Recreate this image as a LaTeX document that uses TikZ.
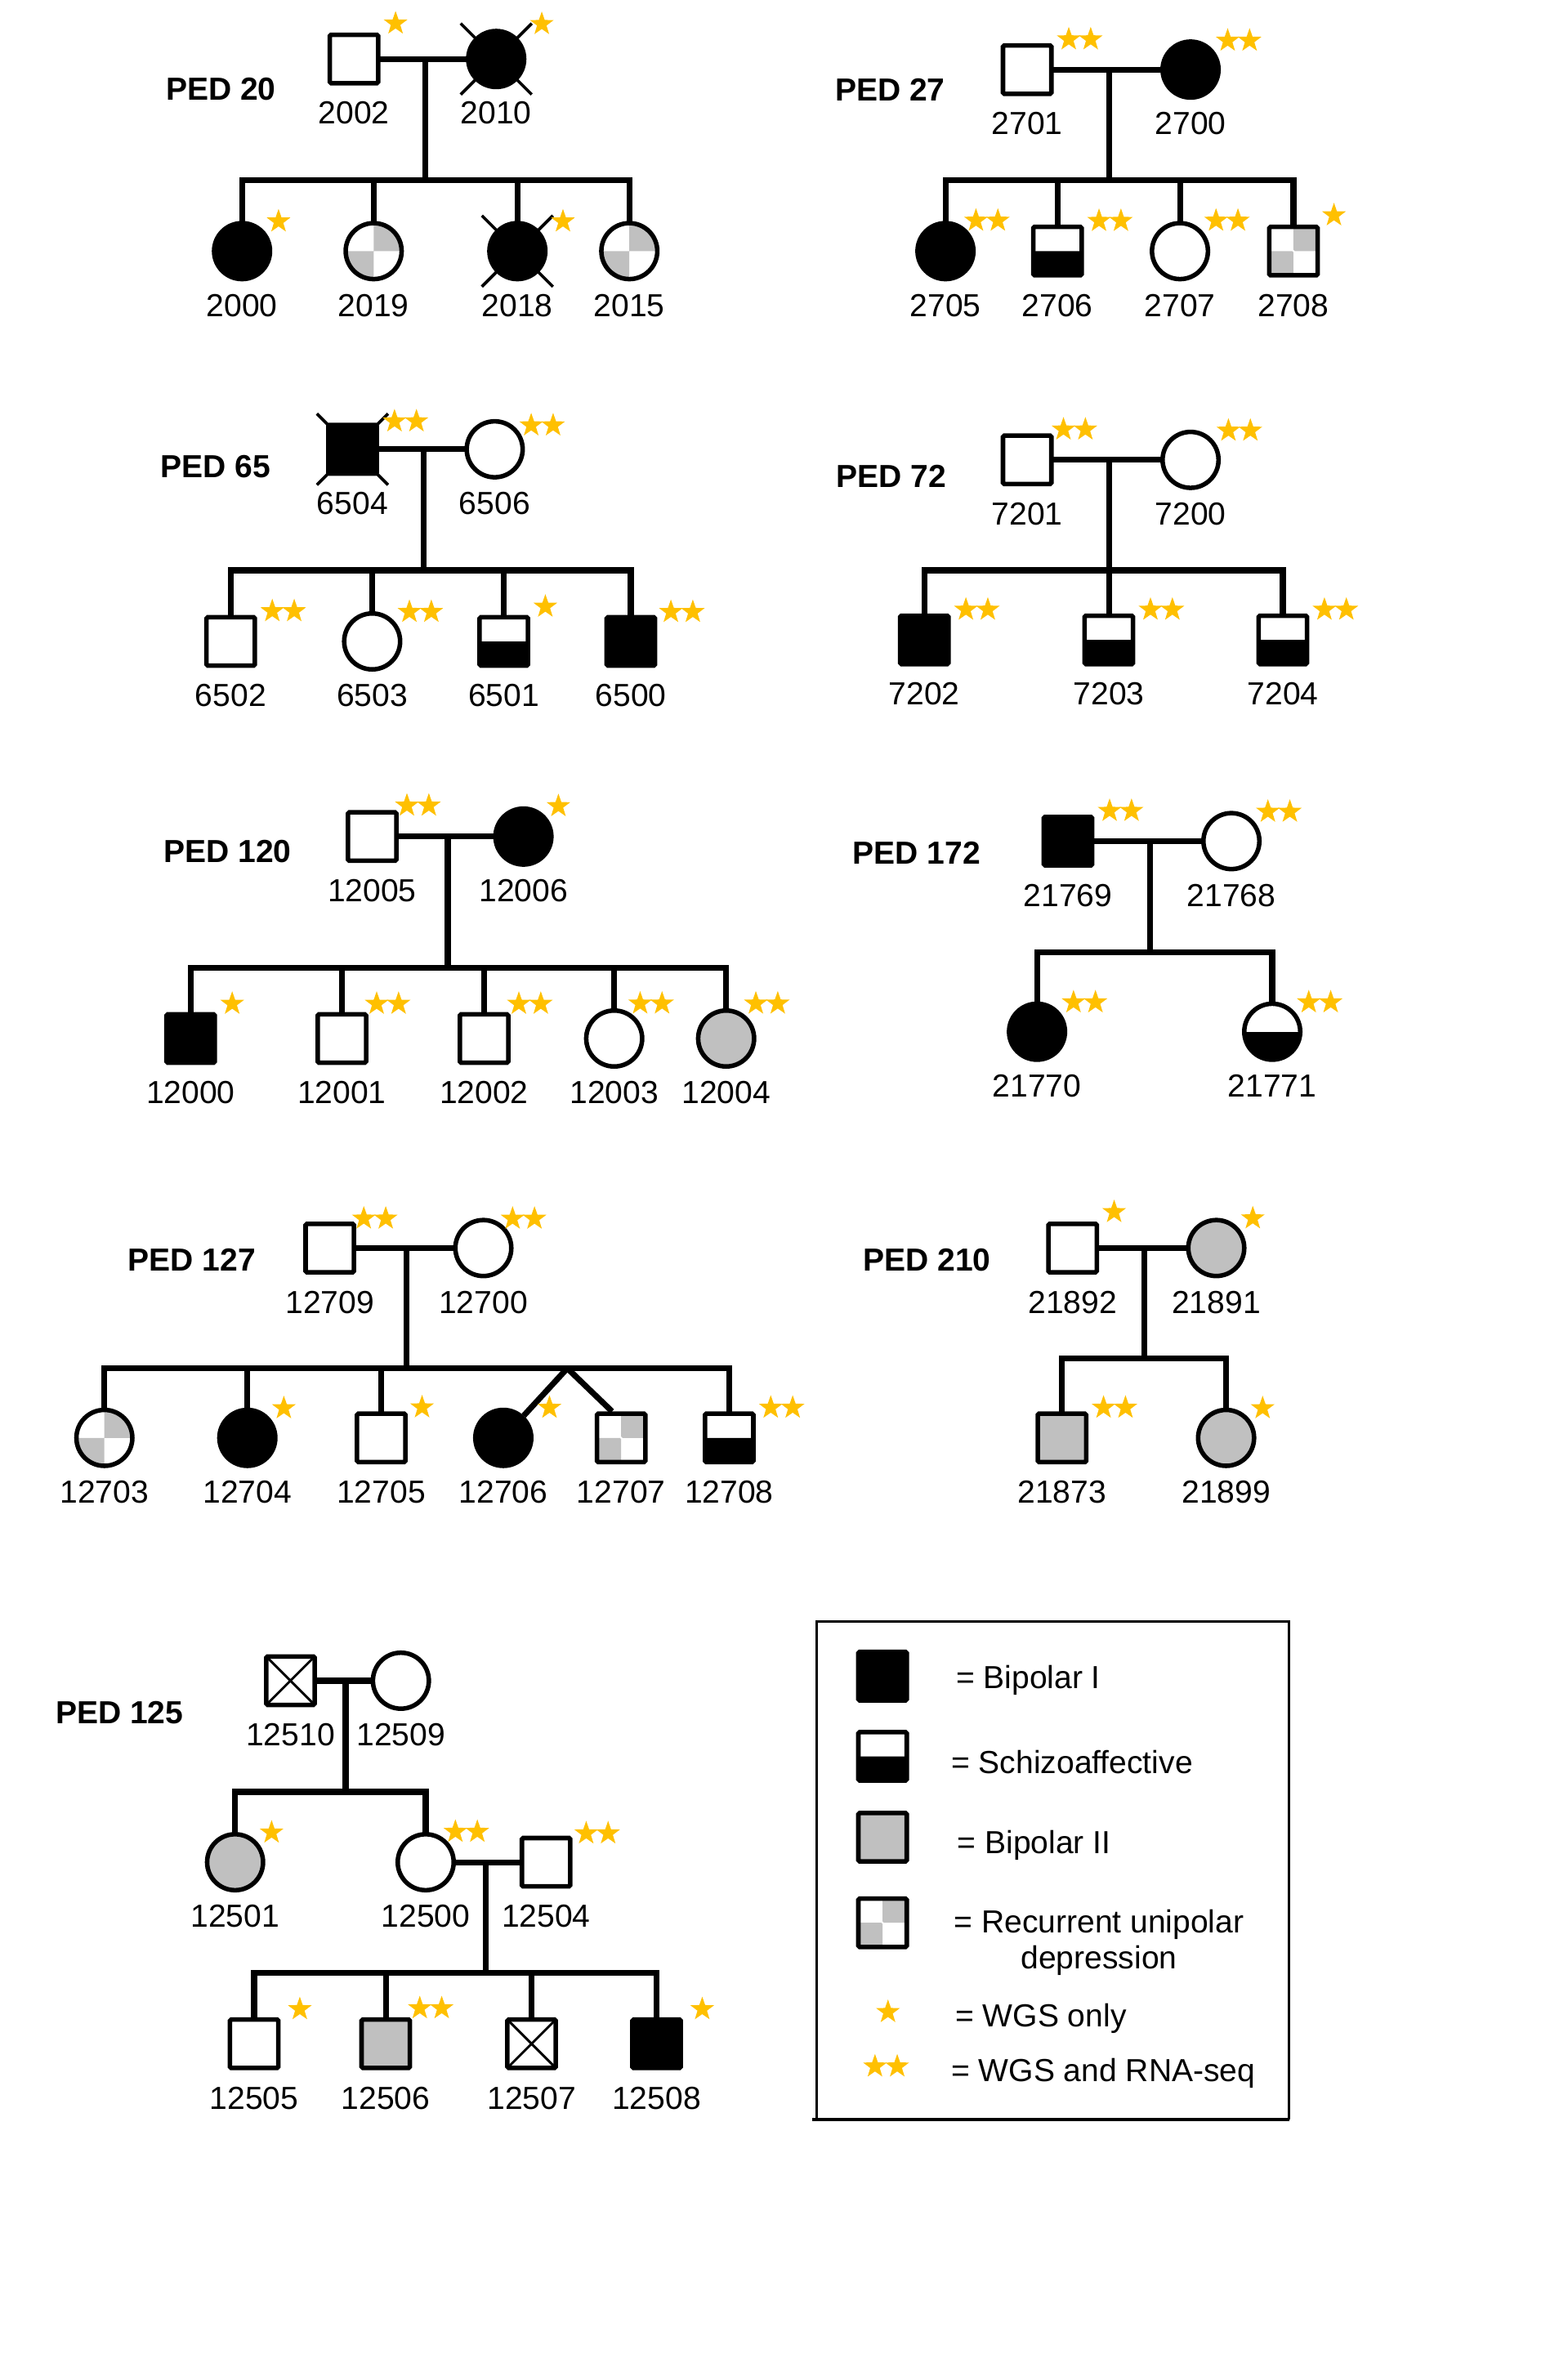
\documentclass[tikz,border=0pt]{standalone}
\usepackage{fontspec}
\setmainfont{Liberation Sans}
\usetikzlibrary{shapes.geometric,calc}
\definecolor{bptwo}{HTML}{C0C0C0}
\definecolor{seqgold}{HTML}{FFC000}
\tikzset{
  ind/.style={draw,line width=1.7pt,inner sep=0pt},
  sq/.style={ind,rectangle,rounded corners=0.5pt,minimum size=0.64cm},
  ci/.style={ind,circle,minimum size=0.74cm},
  male/.style={sq,label={[yshift=-0.21cm]below:#1}},
  female/.style={ci,label={[yshift=-0.16cm]below:#1}},
  bp1/.style={fill=black},
  bp2/.style={fill=bptwo},
  sza/.style={path picture={\fill[black] (path picture bounding box.west) rectangle (path picture bounding box.south east);}},
  rud/.style={path picture={\fill[bptwo] (path picture bounding box.center) rectangle (path picture bounding box.north east) (path picture bounding box.center) rectangle (path picture bounding box.south west);}},
  unk/.style={path picture={\draw[line width=0.9pt] (path picture bounding box.north west) -- (path picture bounding box.south east) (path picture bounding box.north east) -- (path picture bounding box.south west);}},
  wgs/.style={star,star points=5,star point ratio=2.5,fill=seqgold,minimum size=0.33cm,inner sep=0pt},
  kin/.style={line width=2.2pt,line cap=rect},
  dead/.style={line width=1.1pt},
  ped/.style={font=\fontsize{12}{14}\selectfont\bfseries},
  legtext/.style={anchor=base west,inner sep=0pt},
  every label/.style={inner sep=0pt}
}
\newcommand{\onestar}[2][10,-5.5]{\node[wgs] (#2w) at ([shift={(#1)}]#2.north east) {};}
\newcommand{\twostar}[2][10,-2.5]{\node[wgs] (#2w) at ([shift={(#1)}]#2.north east) {};\node[wgs] (#2r) at ([shift={(#1)},xshift=0.29cm]#2.north east) {};}
\newcommand{\deadmark}[1]{\draw[dead] ([shift={(-23.5,-23.5)}]#1.center) -- ([shift={(23.5,23.5)}]#1.center) ([shift={(23.5,-23.5)}]#1.center) -- ([shift={(-23.5,23.5)}]#1.center);}
\begin{document}
\begin{tikzpicture}[x=0.02cm,y=-0.02cm,font=\fontsize{12}{14}\selectfont]
\useasboundingbox (0,0) rectangle (1036,1568);

\node[ped] (ped20) at (146,59) {PED 20};
\node[male=2002] (i2002) at (234,39) {};
\node[female=2010,bp1] (i2010) at (328,39) {};
\node[female=2000,bp1] (i2000) at (160,166) {};
\node[female=2019,rud] (i2019) at (247,166) {};
\node[female=2018,bp1] (i2018) at (342,166) {};
\node[female=2015,rud] (i2015) at (416,166) {};
\coordinate (d20) at ($(i2002)!.5!(i2010)$);
\coordinate (s20) at ($(d20)+(0,80)$);
\draw[kin] (i2002) -- (i2010);
\draw[kin] (d20) -- (s20);
\draw[kin] (i2000 |- s20) -- (i2015 |- s20);
\foreach \p in {i2000,i2019,i2018,i2015} \draw[kin] (\p |- s20) -- (\p);
\deadmark{i2010}
\deadmark{i2018}
\onestar[10,-6]{i2002}
\onestar[16,-9]{i2010}
\onestar{i2000}
\onestar[16,-5.5]{i2018}

\node[ped] (ped27) at (588.4,59.4) {PED 27};
\node[male=2701] (i2701) at (679,46) {};
\node[female=2700,bp1] (i2700) at (787,46) {};
\node[female=2705,bp1] (i2705) at (625,166) {};
\node[male=2706,sza] (i2706) at (699,166) {};
\node[female=2707] (i2707) at (780,166) {};
\node[male=2708,rud] (i2708) at (855,166) {};
\coordinate (d27) at ($(i2701)!.5!(i2700)$);
\coordinate (s27) at ($(d27)+(0,73)$);
\draw[kin] (i2701) -- (i2700);
\draw[kin] (d27) -- (s27);
\draw[kin] (i2705 |- s27) -- (i2708 |- s27);
\foreach \p in {i2705,i2706,i2707,i2708} \draw[kin] (\p |- s27) -- (\p);
\twostar{i2701}
\twostar[10.4,-5]{i2700}
\twostar[6,-6]{i2705}
\twostar{i2706}
\twostar[9.7,-6]{i2707}
\onestar[9.3,-6.2]{i2708}

\node[ped] (ped65) at (142.5,308.6) {PED 65};
\node[male=6504,bp1] (i6504) at (233,297) {};
\node[female=6506] (i6506) at (327,297) {};
\node[male=6502] (i6502) at (152.5,424) {};
\node[female=6503] (i6503) at (246,424) {};
\node[male=6501,sza] (i6501) at (333,424) {};
\node[male=6500,bp1] (i6500) at (417,424) {};
\coordinate (d65) at ($(i6504)!.5!(i6506)$);
\coordinate (s65) at ($(d65)+(0,80)$);
\draw[kin] (i6504) -- (i6506);
\draw[kin] (d65) -- (s65);
\draw[kin] (i6502 |- s65) -- (i6500 |- s65);
\foreach \p in {i6502,i6503,i6501,i6500} \draw[kin] (\p |- s65) -- (\p);
\deadmark{i6504}
\twostar[10.3,-1]{i6504}
\twostar[10,-1.7]{i6506}
\twostar{i6502}
\twostar[10.5,-5.4]{i6503}
\onestar{i6501}
\twostar[9,-2]{i6500}

\node[ped] (ped72) at (589.3,315) {PED 72};
\node[male=7201] (i7201) at (679,304) {};
\node[female=7200] (i7200) at (787,304) {};
\node[male=7202,bp1] (i7202) at (611,423) {};
\node[male=7203,sza] (i7203) at (733,423) {};
\node[male=7204,sza] (i7204) at (848,423) {};
\coordinate (d72) at ($(i7201)!.5!(i7200)$);
\coordinate (s72) at ($(d72)+(0,73)$);
\draw[kin] (i7201) -- (i7200);
\draw[kin] (d72) -- (s72);
\draw[kin] (i7202 |- s72) -- (i7204 |- s72);
\foreach \p in {i7202,i7203,i7204} \draw[kin] (\p |- s72) -- (\p);
\twostar[6.5,-2.6]{i7201}
\twostar[10.9,-5.2]{i7200}
\twostar{i7202}
\twostar{i7203}
\twostar{i7204}

\node[ped] (ped120) at (150.5,562.8) {PED 120};
\node[male=12005] (i12005) at (246,553) {};
\node[female=12006,bp1] (i12006) at (346,553) {};
\node[male=12000,bp1] (i12000) at (126,686.5) {};
\node[male=12001] (i12001) at (226,686.5) {};
\node[male=12002] (i12002) at (320,686.5) {};
\node[female=12003] (i12003) at (406,686.5) {};
\node[female=12004,bp2] (i12004) at (480,686.5) {};
\coordinate (d120) at ($(i12005)!.5!(i12006)$);
\coordinate (s120) at ($(d120)+(0,87)$);
\draw[kin] (i12005) -- (i12006);
\draw[kin] (d120) -- (s120);
\draw[kin] (i12000 |- s120) -- (i12004 |- s120);
\foreach \p in {i12000,i12001,i12002,i12003,i12004} \draw[kin] (\p |- s120) -- (\p);
\twostar[5.5,-3]{i12005}
\onestar[9,-6]{i12006}
\onestar{i12000}
\twostar[5.5,-5.5]{i12001}
\twostar[5.5,-5.5]{i12002}
\twostar[3,-9]{i12003}
\twostar[5.5,-9]{i12004}

\node[ped] (ped172) at (606,564) {PED 172};
\node[male=21769,bp1] (i21769) at (706,556) {};
\node[female=21768] (i21768) at (814,556) {};
\node[female=21770,bp1] (i21770) at (685.5,682) {};
\node[female=21771,sza] (i21771) at (841,682) {};
\coordinate (d172) at ($(i21769)!.5!(i21768)$);
\coordinate (s172) at ($(d172)+(0,73.5)$);
\draw[kin] (i21769) -- (i21768);
\draw[kin] (d172) -- (s172);
\draw[kin] (i21770 |- s172) -- (i21771 |- s172);
\foreach \p in {i21770,i21771} \draw[kin] (\p |- s172) -- (\p);
\twostar{i21769}
\twostar[10,-5.3]{i21768}
\twostar[10,-5.3]{i21770}
\twostar[10,-5.3]{i21771}

\node[ped] (ped127) at (126.8,833) {PED 127};
\node[male=12709] (i12709) at (218,825) {};
\node[female=12700] (i12700) at (319.5,825) {};
\node[female=12703,rud] (i12703) at (69,950.5) {};
\node[female=12704,bp1] (i12704) at (163.5,950.5) {};
\node[male=12705] (i12705) at (252,950.5) {};
\node[female=12706,bp1] (i12706) at (332.7,950.5) {};
\node[male=12707,rud] (i12707) at (410.6,950.5) {};
\node[male=12708,sza] (i12708) at (482,950.5) {};
\coordinate (d127) at ($(i12709)!.5!(i12700)$);
\coordinate (s127) at ($(d127)+(0,79.5)$);
\coordinate (tw127) at (375,904.5);
\coordinate (tw12707) at ([xshift=-0.12cm]i12707.north);
\draw[kin] (i12709) -- (i12700);
\draw[kin] (d127) -- (s127);
\draw[kin] (i12703 |- s127) -- (i12708 |- s127);
\foreach \p in {i12703,i12704,i12705,i12708} \draw[kin] (\p |- s127) -- (\p);
\draw[kin,line cap=butt] (tw127) -- (i12706);
\draw[kin,line cap=butt] (tw127) -- (tw12707);
\twostar[5,-2]{i12709}
\twostar[5.2,-5.3]{i12700}
\onestar{i12704}
\onestar[9.5,-2.7]{i12705}
\onestar[16.4,-5.8]{i12706}
\twostar{i12708}

\node[ped] (ped210) at (612.8,833) {PED 210};
\node[male=21892] (i21892) at (709,825) {};
\node[female=21891,bp2] (i21891) at (804,825) {};
\node[male=21873,bp2] (i21873) at (702,950.5) {};
\node[female=21899,bp2] (i21899) at (810.5,950.5) {};
\coordinate (d210) at ($(i21892)!.5!(i21891)$);
\coordinate (s210) at ($(d210)+(0,73)$);
\draw[kin] (i21892) -- (i21891);
\draw[kin] (d210) -- (s210);
\draw[kin] (i21873 |- s210) -- (i21899 |- s210);
\foreach \p in {i21873,i21899} \draw[kin] (\p |- s210) -- (\p);
\onestar[10,-6.3]{i21892}
\onestar{i21891}
\twostar{i21873}
\onestar{i21899}

\node[ped] (ped125) at (79,1132.4) {PED 125};
\node[male=12510,unk] (i12510) at (192,1111) {};
\node[female=12509] (i12509) at (265,1111) {};
\node[female=12501,bp2] (i12501) at (155.4,1231) {};
\node[female=12500] (i12500) at (281.4,1231) {};
\node[male=12504] (i12504) at (361,1231) {};
\node[male=12505] (i12505) at (168,1351) {};
\node[male=12506,bp2] (i12506) at (255,1351) {};
\node[male=12507,unk] (i12507) at (351.4,1351) {};
\node[male=12508,bp1] (i12508) at (434,1351) {};
\coordinate (d125) at ($(i12510)!.5!(i12509)$);
\coordinate (s125) at ($(d125)+(0,73.5)$);
\coordinate (d125b) at ($(i12500)!.5!(i12504)$);
\coordinate (s125b) at ($(d125b)+(0,73)$);
\draw[kin] (i12510) -- (i12509);
\draw[kin] (d125) -- (s125);
\draw[kin] (i12501 |- s125) -- (i12500 |- s125);
\foreach \p in {i12501,i12500} \draw[kin] (\p |- s125) -- (\p);
\draw[kin] (i12500) -- (i12504);
\draw[kin] (d125b) -- (s125b);
\draw[kin] (i12505 |- s125b) -- (i12508 |- s125b);
\foreach \p in {i12505,i12506,i12507,i12508} \draw[kin] (\p |- s125b) -- (\p);
\onestar{i12501}
\twostar[5.5,-6]{i12500}
\twostar[9,-1.6]{i12504}
\onestar[12.7,-5.4]{i12505}
\twostar[5,-6]{i12506}
\onestar[12.7,-5.4]{i12508}

\draw[line width=0.8pt] (540,1401) |- (852,1072) -- (852,1401);
\draw[line width=1.3pt] (536.7,1401) -- (852.5,1401);
\node[sq,bp1] (lbp1) at (583.4,1108) {};
\node[sq,sza] (lsza) at (583.4,1161) {};
\node[sq,bp2] (lbp2) at (583.4,1214.5) {};
\node[sq,rud] (lrud) at (583.4,1271) {};
\node[wgs] (lwgs) at (587,1330) {};
\node[wgs] (lrna) at (578.4,1366) {};
\node[wgs] (lrnb) at (593.1,1366) {};
\node[legtext] (tbp1) at (631.6,1116) {= Bipolar I};
\node[legtext] (tsza) at (628.5,1172.4) {= Schizoaffective};
\node[legtext] (tbp2) at (632.6,1225.5) {= Bipolar II};
\node[legtext,anchor=base] (trud) at (726.5,1277.7) {= Recurrent unipolar};
\node[legtext,anchor=base] (trudb) at (726.5,1301.4) {depression};
\node[legtext] (twgs) at (631.2,1339.6) {= WGS only};
\node[legtext] (trna) at (628.5,1376) {= WGS and RNA-seq};
\end{tikzpicture}
\end{document}
